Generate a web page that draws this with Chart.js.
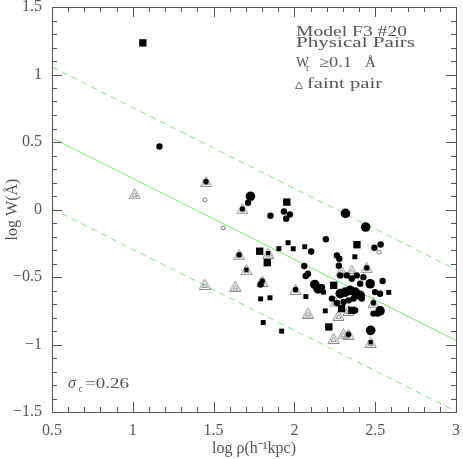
<!DOCTYPE html>
<html>
<head>
<meta charset="utf-8">
<script src="https://cdn.jsdelivr.net/npm/chart.js@4.4.0/dist/chart.umd.min.js"></script>
<style>
  html, body { margin: 0; padding: 0; background: #fff; }
  #wrap { position: relative; width: 463px; height: 459px; }
  #wrap canvas { position: absolute; left: 0; top: 0; }
  #overlay { pointer-events: none; }
</style>
</head>
<body>
<div id="wrap">
  <canvas id="myChart" width="463" height="459"></canvas>
  <canvas id="overlay" width="463" height="459"></canvas>
</div>
<script>
// axis ticks
const xTicks = [0.5, 1, 1.5, 2, 2.5, 3];
const yTicks = [-1.5, -1, -0.5, 0, 0.5, 1, 1.5];

// fitted relation and its +/- sigma band (read at x = 0.5 and x = 3)
const fitX = [0.5, 3];
const fitMid = [0.53, -0.97];
const fitUpper = [1.055, -0.445];
const fitLower = [0.005, -1.495];

// pairs, by marker
const bigSquares = [[1.062, 1.234], [1.953, 0.055], [1.785, -0.309], [1.832, -0.394], [2.387, -0.261],
  [2.243, -0.562], [2.292, -0.734], [2.355, -0.747], [2.213, -0.870]];
const smallSquares = [[1.961, -0.246], [1.904, -0.290], [1.993, -0.291], [2.064, -0.276], [2.374, -0.350],
  [2.180, -0.612], [2.071, -0.645], [1.791, -0.662], [1.849, -0.654], [2.191, -0.751], [2.584, -0.614],
  [1.807, -0.837], [1.921, -0.901]];
const medCircles = [[1.165, 0.467], [1.713, 0.050], [1.852, -0.046], [1.935, -0.015], [1.972, -0.037],
  [1.949, -0.069], [2.195, -0.220], [2.104, -0.311], [2.534, -0.259], [2.495, -0.283], [2.263, -0.340],
  [2.278, -0.365], [2.061, -0.419], [2.275, -0.416], [2.084, -0.476], [2.070, -0.493], [1.791, -0.555],
  [2.284, -0.488], [2.324, -0.488], [2.355, -0.513], [2.386, -0.488], [2.407, -0.550], [2.427, -0.501],
  [2.546, -0.530], [2.499, -0.612], [2.530, -0.624], [2.171, -0.575], [2.366, -0.660], [2.335, -0.673],
  [2.304, -0.685], [2.417, -0.660], [2.232, -0.660], [2.263, -0.693], [2.376, -0.747], [2.489, -0.771],
  [2.515, -0.771]];
const bigCircles = [[1.728, 0.098], [2.316, -0.028], [2.441, -0.130], [2.126, -0.555], [2.147, -0.588],
  [2.469, -0.550], [2.284, -0.623], [2.315, -0.612], [2.345, -0.599], [2.376, -0.612], [2.407, -0.636],
  [2.530, -0.751], [2.472, -0.895]];
const openCircles = [[1.446, 0.072], [1.559, -0.136], [2.524, -0.316]];

// faint pairs (triangles), some with a marker inside
const faintAlone = [[1.011, 0.116], [1.446, -0.555], [1.634, -0.567], [2.084, -0.767], [2.290, -0.451],
  [2.355, -0.451], [2.273, -0.784], [2.335, -0.747], [2.243, -0.954], [2.304, -0.921], [2.253, -0.685]];
const faintCircle = [[1.453, 0.207], [1.678, 0.005], [1.658, -0.335], [1.801, -0.530], [2.007, -0.592],
  [2.448, -0.431], [2.489, -0.691], [2.335, -0.924]];
const faintSquare = [[1.703, -0.446], [1.838, -0.323], [2.472, -0.983]];

const FONT = 'Liberation Serif';
const TXT = '#555';

function pts(arr) {
  return arr.map(p => ({ x: p[0], y: p[1] }));
}
function linePts(ys) {
  return fitX.map((x, i) => ({ x: x, y: ys[i] }));
}
function fmt(v) {
  return String(v).replace('-', '\u2212');
}

// hershey-ish triangle symbol
const tri = document.createElement('canvas');
tri.width = 13; tri.height = 11;
(function () {
  const c = tri.getContext('2d');
  c.strokeStyle = '#8a8a8a';
  c.lineWidth = 1;
  c.beginPath();
  c.moveTo(6.5, 0.5); c.lineTo(12, 10.5); c.lineTo(1, 10.5); c.closePath();
  c.moveTo(6.5, 4.5); c.lineTo(9, 8.5); c.lineTo(4, 8.5); c.closePath();
  c.stroke();
})();

function scatter(data, style, r, color, order, border) {
  return {
    type: 'scatter', data: pts(data), order: order,
    pointStyle: style, pointRadius: r, pointHoverRadius: r,
    backgroundColor: border ? 'rgba(0,0,0,0)' : color,
    borderColor: color, borderWidth: border ? 1 : 0
  };
}
function fitLine(ys, dash) {
  return {
    type: 'line', data: linePts(ys), order: 5,
    borderColor: '#70f070', borderWidth: 1, borderDash: dash,
    pointRadius: 0, fill: false, tension: 0
  };
}

function wideText(c, s, x, y, w) {
  const m = c.measureText(s).width;
  c.save();
  c.translate(x, y);
  c.scale(w / m, 1);
  c.fillText(s, 0, 0);
  c.restore();
}

function num(v, d) {
  const n = Number(v);
  return isFinite(n) ? Math.round(n) : d;
}

// frame, inward ticks and the notes go on a canvas laid over the chart
function drawOverlay(chart) {
  const c = document.getElementById('overlay').getContext('2d');
  const a = chart && chart.chartArea ? chart.chartArea : {};
  const L = num(a.left, 52), R = num(a.right, 458), T = num(a.top, 6), B = num(a.bottom, 412);
  const xpx = v => Math.round(L + (v - 0.5) / 2.5 * (R - L));
  const ypx = v => Math.round(T + (1.5 - v) / 3 * (B - T));
  c.clearRect(0, 0, 463, 459);
  c.fillStyle = '#555';
  c.fillRect(L, T, R - L + 1, 1);
  c.fillRect(L, B, R - L + 1, 1);
  c.fillRect(L, T, 1, B - T + 1);
  c.fillRect(R, T, 1, B - T + 1);
  for (let i = 5; i <= 30; i++) {
    const px = xpx(i / 10);
    const len = (i % 5 === 0) ? 10 : 5;
    c.fillRect(px, B - len, 1, len);
    c.fillRect(px, T, 1, len);
  }
  for (let i = -15; i <= 15; i++) {
    const py = ypx(i / 10);
    const len = (Math.abs(i) % 5 === 0) ? 10 : 5;
    c.fillRect(L, py, len, 1);
    c.fillRect(R - len, py, len, 1);
  }

  c.fillStyle = TXT;
  c.textBaseline = 'alphabetic';
  c.font = '15px "' + FONT + '"';
  wideText(c, 'Model F3 #20', 296, 35.5, 111);
  wideText(c, 'Physical Pairs', 296, 47, 119);
  wideText(c, 'W', 296, 66.5, 13);
  wideText(c, '\u22650.1', 319, 66.5, 33);
  c.fillText('\u00c5', 365, 66.5);
  wideText(c, 'faint pair', 307, 88, 75);
  c.font = '10px "' + FONT + '"';
  c.fillText('r', 306, 71);
  c.strokeStyle = '#777';
  c.lineWidth = 1;
  c.beginPath();
  c.moveTo(299, 82); c.lineTo(302.5, 88.5); c.lineTo(295.5, 88.5); c.closePath();
  c.stroke();
  c.font = 'italic 16px "' + FONT + '"';
  c.fillText('\u03c3', 68, 388);
  c.font = '10px "' + FONT + '"';
  c.fillText('c', 78.5, 392);
  c.font = '15px "' + FONT + '"';
  wideText(c, '=0.26', 85, 388, 44);
}

const overlayPlugin = {
  id: 'overlayPlugin',
  afterDraw(chart) { drawOverlay(chart); }
};

const ctx = document.getElementById('myChart').getContext('2d');

const myChart = new Chart(ctx, {
  type: 'scatter',
  data: {
    datasets: [
      scatter(faintCircle, 'circle', 2.7, '#000', 0),
      scatter(faintSquare, 'rect', 3, '#000', 0),
      scatter(bigSquares, 'rect', 5.2, '#000', 1),
      scatter(smallSquares, 'rect', 3.5, '#000', 1),
      scatter(bigCircles, 'circle', 4.8, '#000', 1),
      scatter(medCircles, 'circle', 3.2, '#000', 1),
      scatter(openCircles, 'circle', 2, '#777', 1, true),
      {
        type: 'scatter', data: pts(faintAlone.concat(faintCircle, faintSquare)), order: 2,
        pointStyle: tri, pointRadius: 6
      },
      fitLine(fitMid, []),
      fitLine(fitUpper, [6, 5]),
      fitLine(fitLower, [6, 5])
    ]
  },
  options: {
    responsive: false,
    animation: false,
    devicePixelRatio: 1,
    layout: { padding: { top: 6, right: 3, left: 0, bottom: 0 } },
    plugins: { legend: { display: false }, tooltip: { enabled: false } },
    scales: {
      x: {
        type: 'linear', min: 0.5, max: 3,
        afterBuildTicks: s => { s.ticks = xTicks.map(v => ({ value: v })); },
        afterFit: s => { s.height = 47; s.paddingLeft = 0; s.paddingRight = 0; },
        ticks: { padding: 9, color: TXT, font: { family: FONT, size: 16 }, callback: v => fmt(v), maxRotation: 0 },
        grid: { display: false, drawTicks: false },
        border: { display: true, color: '#555', width: 1 },
        title: { display: true, text: 'log \u03c1(h\u207b\u00b9kpc)', color: TXT, font: { family: FONT, size: 16 }, padding: { top: 0, bottom: 1 } }
      },
      y: {
        type: 'linear', min: -1.5, max: 1.5,
        afterBuildTicks: s => { s.ticks = yTicks.map(v => ({ value: v })); },
        afterFit: s => { s.width = 52; s.paddingTop = 0; s.paddingBottom = 0; },
        ticks: { padding: 10, color: TXT, font: { family: FONT, size: 16 }, callback: v => fmt(v) },
        grid: { display: false, drawTicks: false },
        border: { display: true, color: '#555', width: 1 },
        title: { display: true, text: 'log W(\u00c5)', color: TXT, font: { family: FONT, size: 16 }, padding: { top: 3, bottom: 0 } }
      }
    }
  },
  plugins: [overlayPlugin]
});

drawOverlay(myChart);
</script>
</body>
</html>
